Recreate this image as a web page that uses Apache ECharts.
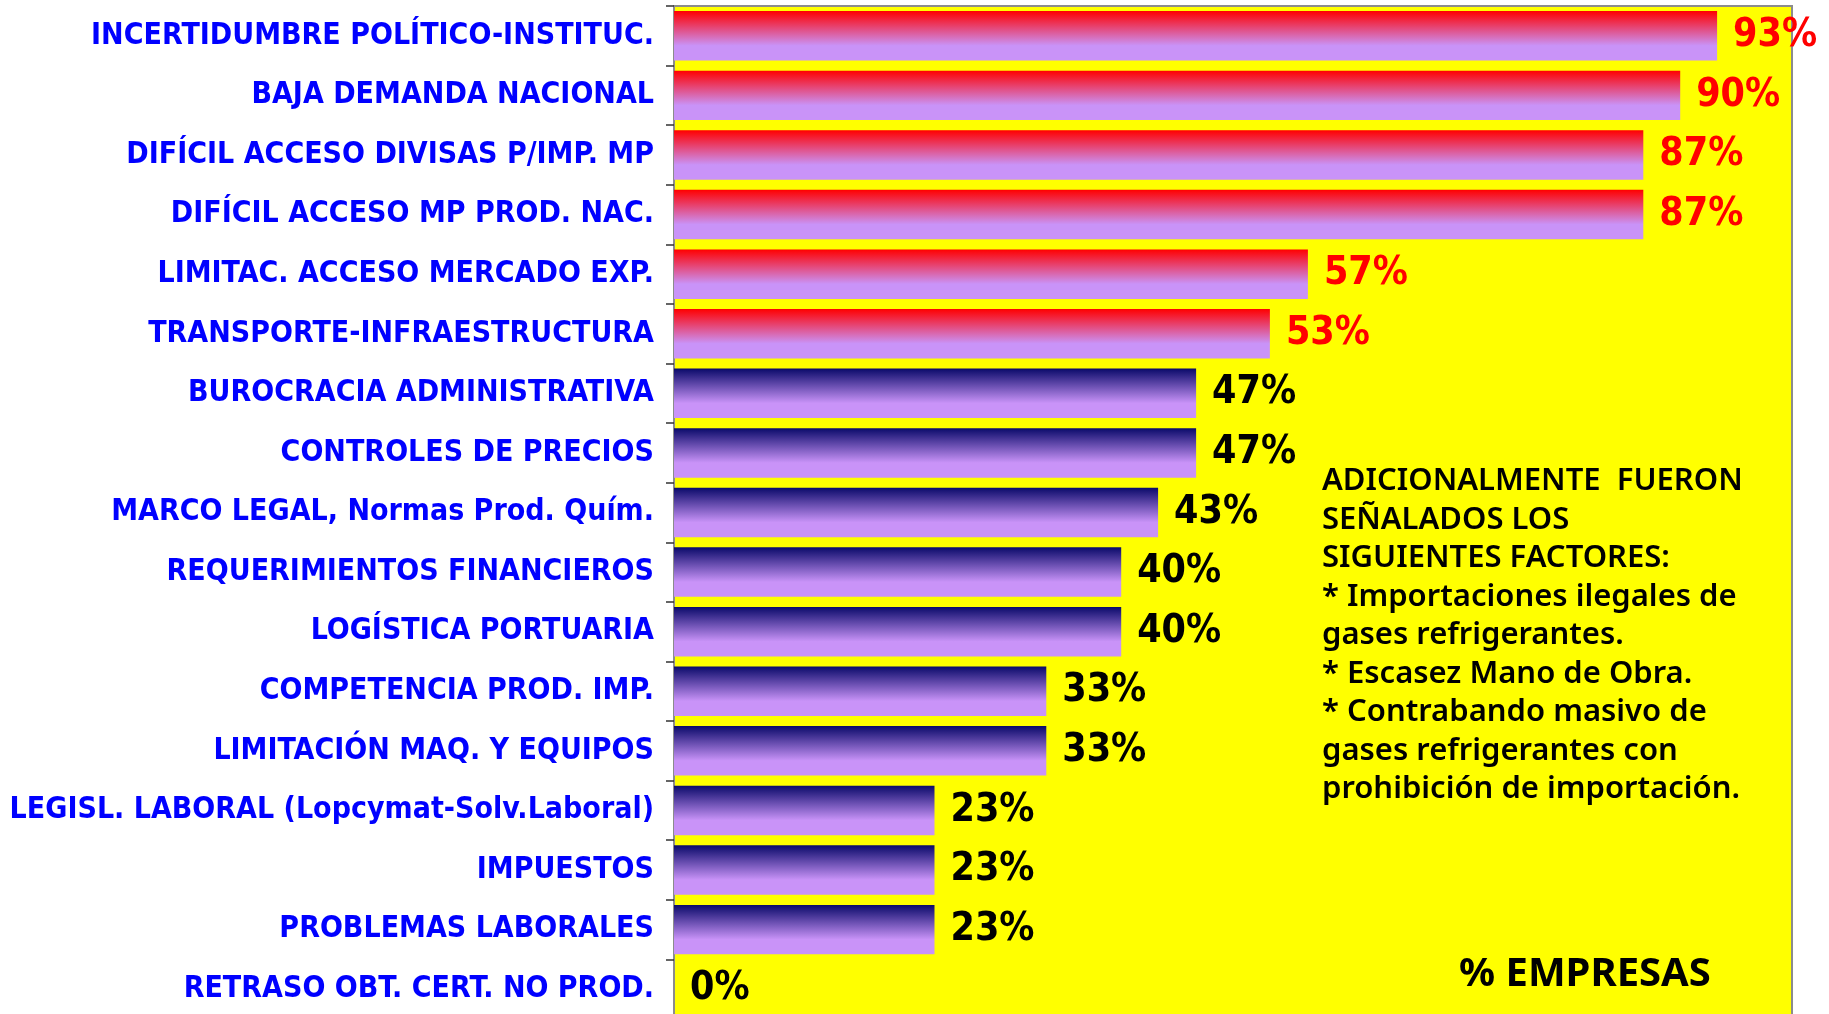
<!DOCTYPE html>
<html><head><meta charset="utf-8">
<script src="https://cdn.jsdelivr.net/npm/echarts@6/dist/echarts.min.js"></script>
<style>html,body{margin:0;padding:0;background:#fff}#c{width:1829px;height:1014px}</style>
</head><body><div id="c"></div>
<script>
const categories = [
  'INCERTIDUMBRE POLÍTICO-INSTITUC.',
  'BAJA DEMANDA NACIONAL',
  'DIFÍCIL ACCESO DIVISAS P/IMP. MP',
  'DIFÍCIL ACCESO MP PROD. NAC.',
  'LIMITAC. ACCESO MERCADO EXP.',
  'TRANSPORTE-INFRAESTRUCTURA',
  'BUROCRACIA ADMINISTRATIVA',
  'CONTROLES DE PRECIOS',
  'MARCO LEGAL, Normas Prod. Quím.',
  'REQUERIMIENTOS FINANCIEROS',
  'LOGÍSTICA PORTUARIA',
  'COMPETENCIA PROD. IMP.',
  'LIMITACIÓN MAQ. Y EQUIPOS',
  'LEGISL. LABORAL (Lopcymat-Solv.Laboral)',
  'IMPUESTOS',
  'PROBLEMAS LABORALES',
  'RETRASO OBT. CERT. NO PROD.'
];
const percentEmpresas = [93.3, 90, 86.7, 86.7, 56.7, 53.3, 46.7, 46.7, 43.3, 40, 40, 33.3, 33.3, 23.3, 23.3, 23.3, 0];
const highlightThreshold = 50;
const noteLines = [
  'ADICIONALMENTE  FUERON',
  'SEÑALADOS LOS',
  'SIGUIENTES FACTORES:',
  '* Importaciones ilegales de',
  'gases refrigerantes.',
  '* Escasez Mano de Obra.',
  '* Contrabando masivo de',
  'gases refrigerantes con',
  'prohibición de importación.'
];
const axisTitle = '% EMPRESAS';

const lav = '#C993F8';
function grad(top){
  return {type:'linear',x:0,y:0,x2:0,y2:1,colorStops:[
    {offset:0,color:top},{offset:0.7,color:lav},{offset:1,color:lav}]};
}
const narrow = '"Liberation Sans Narrow","Arial Narrow","DejaVu Sans Condensed",sans-serif';
const chart = echarts.init(document.getElementById('c'));
chart.setOption({
  animation:false,
  grid:{left:674,right:37,top:6,height:1013,containLabel:false,outerBoundsMode:'none',
    show:true,backgroundColor:'#FFFF00',borderColor:'#8c8c8c',borderWidth:2},
  xAxis:{type:'value',min:0,max:100,show:false},
  yAxis:{type:'category',inverse:true,data:categories,
    axisLine:{show:true,lineStyle:{color:'#8c8c8c',width:2}},
    axisTick:{show:true,length:8,lineStyle:{color:'#333',width:1.5}},
    axisLabel:{color:'#0000FF',fontWeight:'bold',fontSize:30,fontFamily:narrow,margin:20}
  },
  series:[{type:'bar',barCategoryGap:'17%',
    data:percentEmpresas.map(v=>({value:v,
      itemStyle:{color:grad(v>highlightThreshold?'#FF0000':'#0A0A6A')},
      label:{color:v>highlightThreshold?'#FF0000':'#000000'}})),
    label:{show:true,position:'right',distance:16,fontSize:39,fontWeight:'bold',fontFamily:narrow,
      formatter:p=>Math.round(p.value)+'%'}
  }],
  graphic:[
    {type:'text',left:1322,top:462,style:{text:noteLines.join('\n'),fontSize:31,lineHeight:38.5,fontWeight:600,fill:'#000',fontFamily:'"Noto Sans",sans-serif'}},
    {type:'text',left:1459,top:955,style:{text:axisTitle,fontSize:40,fontWeight:'bold',fill:'#000',fontFamily:'"Noto Sans",sans-serif'}}
  ]
});
</script></body></html>
